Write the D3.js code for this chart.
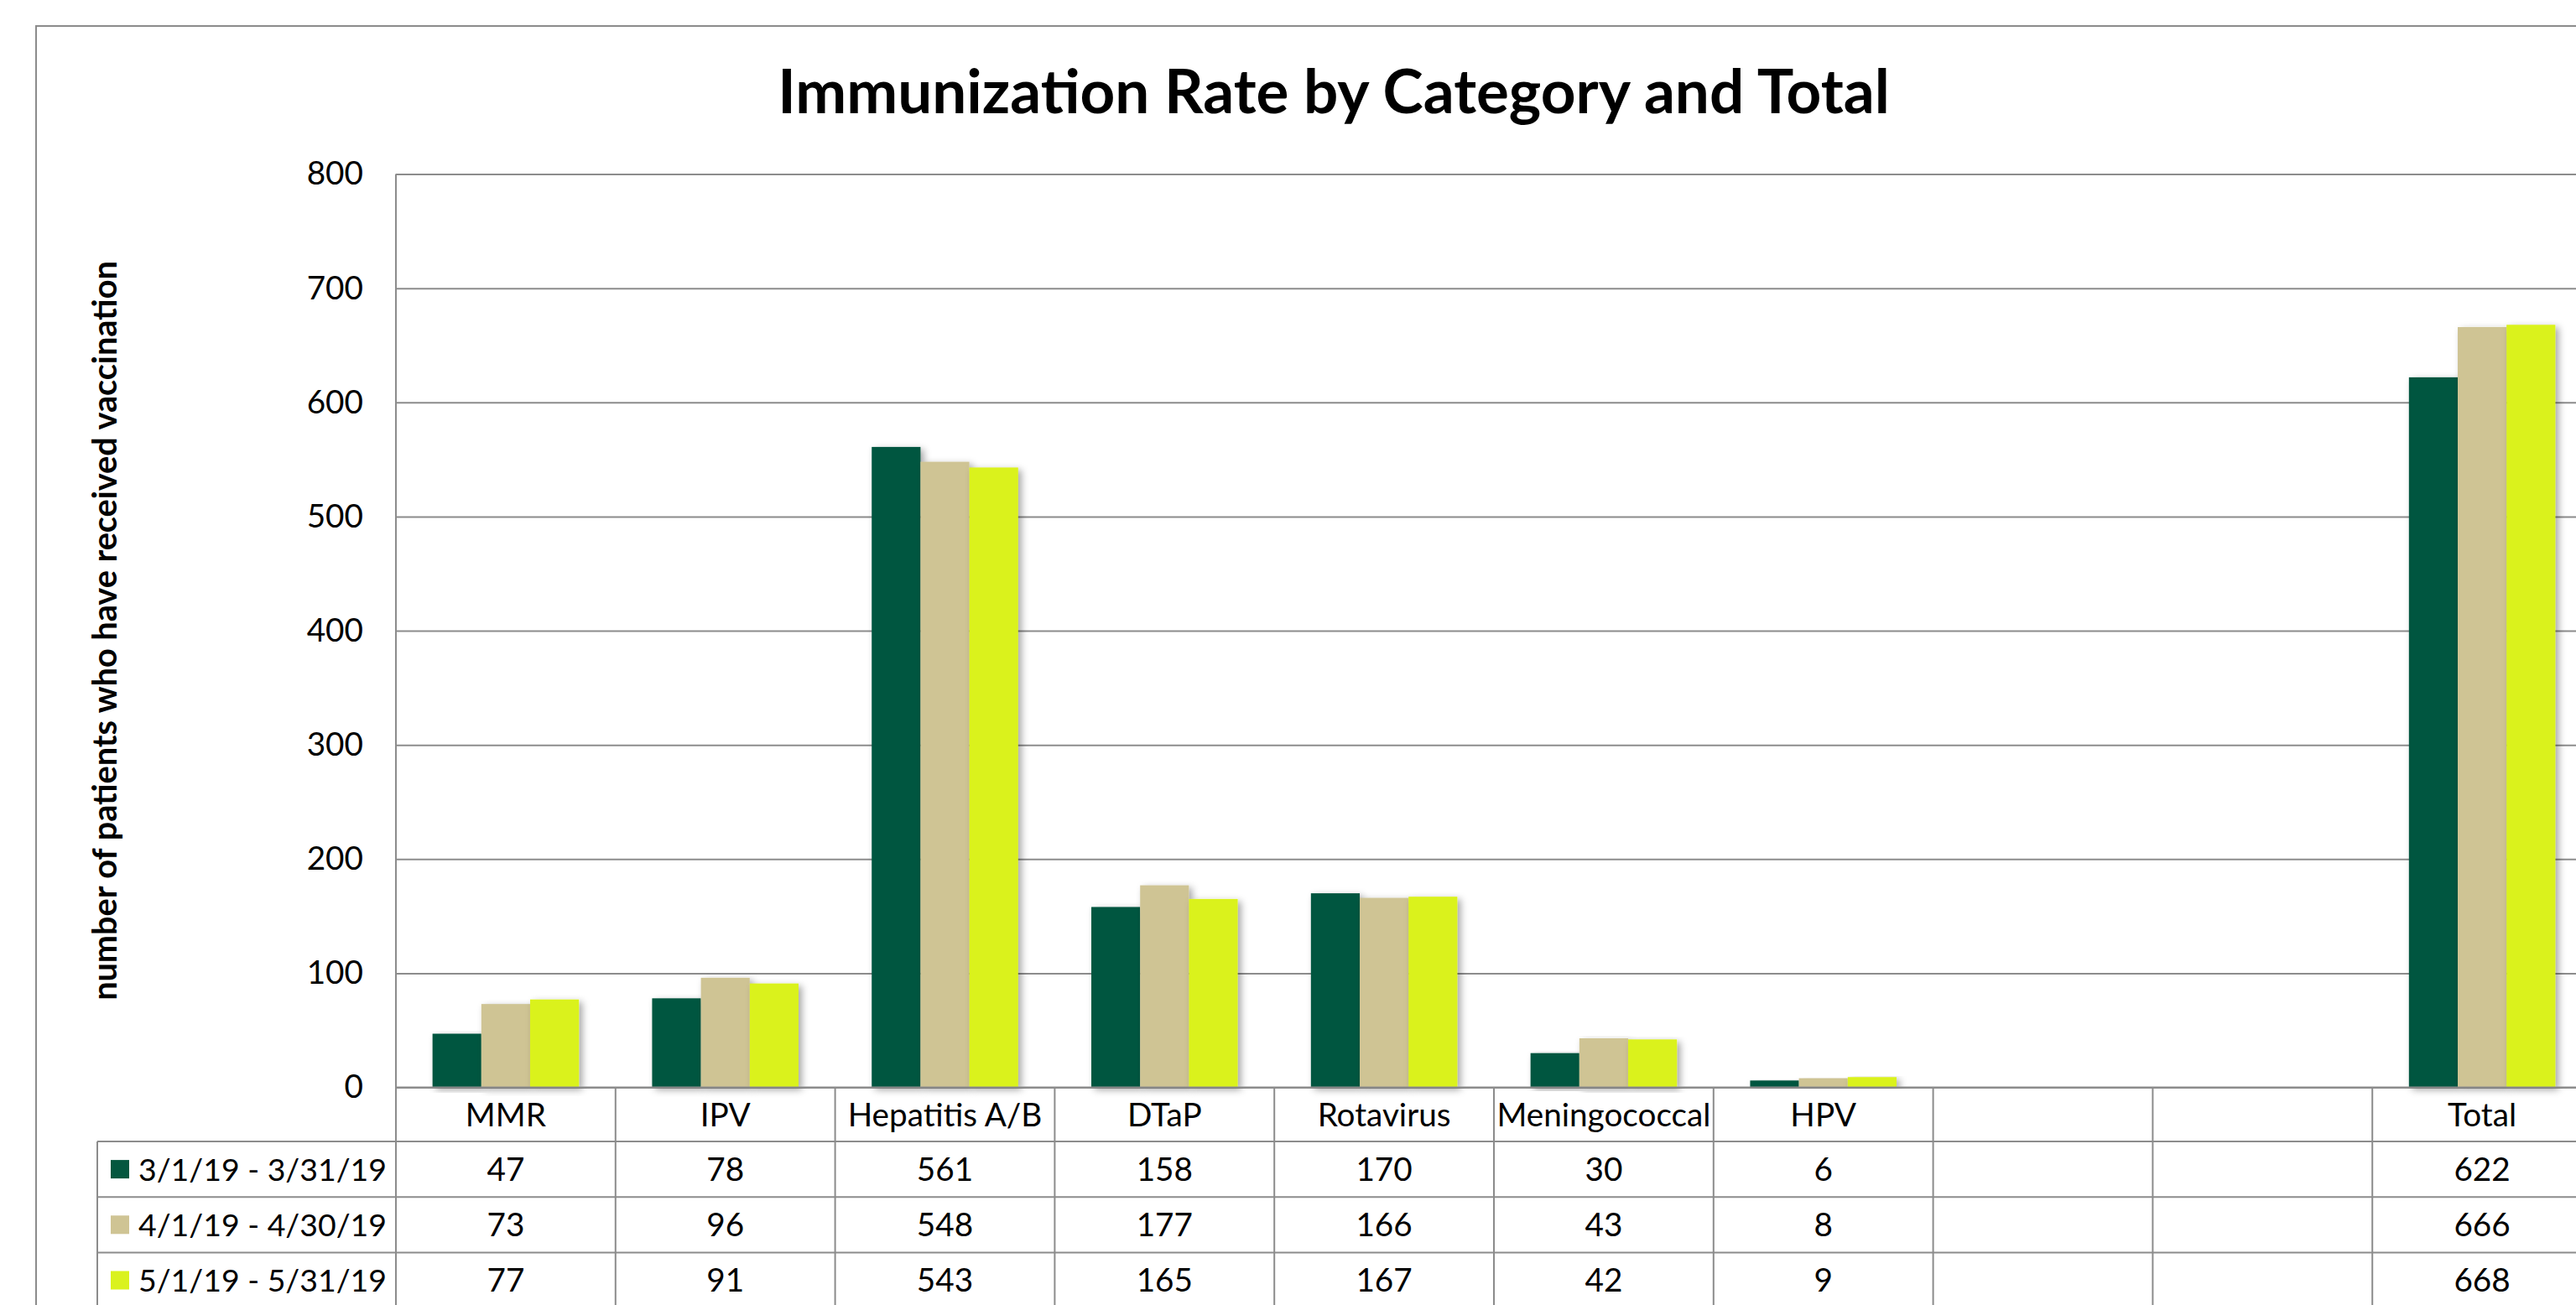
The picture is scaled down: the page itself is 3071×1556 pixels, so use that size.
<!DOCTYPE html>
<html>
<head>
<meta charset="utf-8">
<script src="https://cdn.jsdelivr.net/npm/d3@7"></script>
<style>
  body { margin: 0; background: #fff; overflow: hidden; }
  svg { display: block; font-family: Lato, "Open Sans", sans-serif; }
</style>
</head>
<body>
<div class="canvas"></div>
<script>
// chart data
const categories = ['MMR', 'IPV', 'Hepatitis A/B', 'DTaP', 'Rotavirus', 'Meningococcal', 'HPV', '', '', 'Total'];
const seriesNames = ['3/1/19 - 3/31/19', '4/1/19 - 4/30/19', '5/1/19 - 5/31/19'];
const marchValues = [47, 78, 561, 158, 170, 30, 6, null, null, 622];
const aprilValues = [73, 96, 548, 177, 166, 43, 8, null, null, 666];
const mayValues = [77, 91, 543, 165, 167, 42, 9, null, null, 668];
const yTicks = [0, 100, 200, 300, 400, 500, 600, 700, 800];
const colours = ['#04573f', '#cfc494', '#daf21d'];

const seriesValues = [marchValues, aprilValues, mayValues];

const dims = { width: 3071, height: 1556 };
const frame = { left: 43, top: 31, right: 3137, bottom: 1640 };
const plot = { left: 472, right: 3090, top: 207.6, bottom: 1296.5 };
const table = { left: 116, headerH: 64.5, rowH: 66.2 };
const lineCol = '#8c8c8c';

const svg = d3.select('.canvas')
    .append('svg')
    .attr('width', dims.width)
    .attr('height', dims.height);

// soft excel-like shadow for the bars
const filter = svg.append('defs').append('filter')
    .attr('id', 'shadow')
    .attr('x', '-20%').attr('y', '-5%')
    .attr('width', '150%').attr('height', '115%');
filter.append('feDropShadow')
    .attr('dx', 4).attr('dy', 3)
    .attr('stdDeviation', 4)
    .attr('flood-color', '#000')
    .attr('flood-opacity', 0.35);

// chart frame
svg.append('rect')
    .attr('x', frame.left).attr('y', frame.top)
    .attr('width', frame.right - frame.left)
    .attr('height', frame.bottom - frame.top)
    .attr('fill', '#fff')
    .attr('stroke', lineCol)
    .attr('stroke-width', 2);

// work out a font size so a string hits a given width
const fitSize = (str, weight, target) => {
    const t = svg.append('text')
        .attr('font-size', 100)
        .attr('font-weight', weight)
        .text(str);
    const len = t.node().getComputedTextLength();
    t.remove();
    return 100 * target / len;
};

const bodySize = fitSize('Meningococcal', 'normal', 255);
const legendSize = fitSize('4/1/19 - 4/30/19', 'normal', 296);
const titleSize = fitSize('Immunization Rate by Category and Total', 'bold', 1326);
const yLabelSize = fitSize('number of patients who have received vaccination', 'bold', 882);

// scales
const x0 = d3.scaleBand()
    .domain(d3.range(categories.length))
    .range([plot.left, plot.right]);

const x1 = d3.scaleBand()
    .domain(d3.range(seriesNames.length))
    .range([0, x0.bandwidth()])
    .paddingInner(0)
    .paddingOuter(0.75);

const y = d3.scaleLinear()
    .domain([0, 800])
    .range([plot.bottom, plot.top]);

// gridlines
const grid = svg.append('g')
    .attr('transform', `translate(${plot.left},0)`)
    .call(d3.axisLeft(y)
        .tickValues(yTicks)
        .tickSize(-(plot.right - plot.left))
        .tickFormat(''));
grid.select('.domain').remove();
grid.selectAll('line')
    .attr('stroke', lineCol)
    .attr('stroke-width', 2);

// y tick labels
const yAxis = svg.append('g')
    .attr('transform', `translate(${plot.left},0)`)
    .call(d3.axisLeft(y)
        .tickValues(yTicks)
        .tickSize(0)
        .tickPadding(39));
yAxis.select('.domain').remove();
yAxis.selectAll('text')
    .attr('font-family', 'Lato, sans-serif')
    .attr('font-size', bodySize)
    .attr('fill', '#000');

// bars
const groups = svg.append('g')
    .selectAll('g')
    .data(categories.map((c, i) => ({ i, vals: seriesValues.map(s => s[i]) })))
    .join('g')
    .attr('transform', d => `translate(${x0(d.i)},0)`);

groups.selectAll('rect')
    .data(d => d.vals.map((v, s) => ({ s, v })).filter(d => d.v !== null))
    .join('rect')
    .attr('x', d => x1(d.s))
    .attr('y', d => y(d.v))
    .attr('width', x1.bandwidth())
    .attr('height', d => y(0) - y(d.v))
    .attr('fill', d => colours[d.s])
    .attr('filter', 'url(#shadow)');

// axis line on top of the shadows
svg.append('line')
    .attr('x1', plot.left).attr('x2', plot.right)
    .attr('y1', y(0)).attr('y2', y(0))
    .attr('stroke', lineCol).attr('stroke-width', 2);

// data table
const headerBottom = plot.bottom + table.headerH;
const tableBottom = headerBottom + table.rowH * seriesNames.length;
const tbl = svg.append('g');

tbl.selectAll('.hline')
    .data(d3.range(seriesNames.length + 1))
    .join('line')
    .attr('class', 'hline')
    .attr('x1', table.left).attr('x2', plot.right)
    .attr('y1', d => headerBottom + d * table.rowH)
    .attr('y2', d => headerBottom + d * table.rowH)
    .attr('stroke', lineCol).attr('stroke-width', 2);

tbl.append('line')
    .attr('x1', table.left).attr('x2', table.left)
    .attr('y1', headerBottom).attr('y2', tableBottom + 40)
    .attr('stroke', lineCol).attr('stroke-width', 2);

tbl.selectAll('.vline')
    .data(d3.range(categories.length + 1))
    .join('line')
    .attr('class', 'vline')
    .attr('x1', d => plot.left + d * x0.bandwidth())
    .attr('x2', d => plot.left + d * x0.bandwidth())
    .attr('y1', d => d === 0 ? plot.top : plot.bottom)
    .attr('y2', tableBottom + 40)
    .attr('stroke', lineCol).attr('stroke-width', 2);

// category names
tbl.selectAll('.cat')
    .data(categories)
    .join('text')
    .attr('class', 'cat')
    .attr('x', (d, i) => x0(i) + x0.bandwidth() / 2)
    .attr('y', plot.bottom + table.headerH / 2)
    .attr('dy', '0.36em')
    .attr('text-anchor', 'middle')
    .attr('font-size', bodySize)
    .text(d => d);

// series rows
const rows = tbl.selectAll('.row')
    .data(seriesNames)
    .join('g')
    .attr('class', 'row')
    .attr('transform', (d, i) => `translate(0,${headerBottom + i * table.rowH + table.rowH / 2})`);

rows.append('rect')
    .attr('x', 132).attr('y', -11)
    .attr('width', 22).attr('height', 22)
    .attr('fill', (d, i) => colours[i]);

rows.append('text')
    .attr('x', 165)
    .attr('dy', '0.36em')
    .attr('font-size', legendSize)
    .text(d => d);

rows.each(function(d, s) {
    d3.select(this).selectAll('.val')
        .data(seriesValues[s])
        .join('text')
        .attr('class', 'val')
        .attr('x', (v, i) => x0(i) + x0.bandwidth() / 2)
        .attr('dy', '0.36em')
        .attr('text-anchor', 'middle')
        .attr('font-size', bodySize)
        .text(v => v === null ? '' : v);
});

// titles
svg.append('text')
    .attr('x', 1590)
    .attr('y', 135)
    .attr('text-anchor', 'middle')
    .attr('font-weight', 'bold')
    .attr('font-size', titleSize)
    .text('Immunization Rate by Category and Total');

svg.append('text')
    .attr('transform', `translate(125,${(plot.top + plot.bottom) / 2}) rotate(-90)`)
    .attr('dy', '0.36em')
    .attr('text-anchor', 'middle')
    .attr('font-weight', 'bold')
    .attr('font-size', yLabelSize)
    .text('number of patients who have received vaccination');
</script>
</body>
</html>
